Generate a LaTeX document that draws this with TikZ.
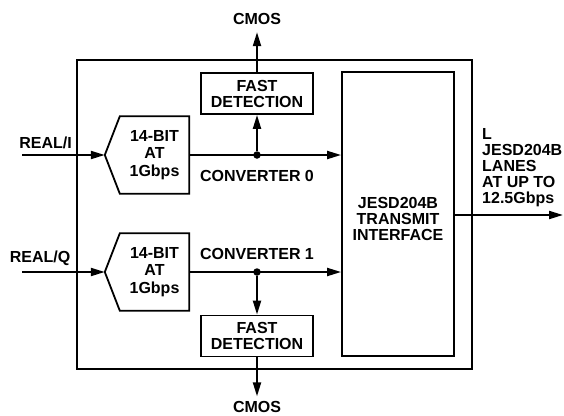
\documentclass[tikz,border=0pt]{standalone}
\usepackage{fontspec}
\setmainfont{Liberation Sans}
\usetikzlibrary{arrows.meta,calc}

\begin{document}
\begin{tikzpicture}[x=1pt,y=-1pt,
  txt/.style={font=\fontsize{16}{16}\selectfont\bfseries, align=center, inner sep=0pt},
  blk/.style={draw, line width=1.8pt, inner sep=0pt},
  adcbox/.style={txt, font=\fontsize{16}{17.5}\selectfont\bfseries, minimum width=69pt, minimum height=77pt},
  fastbox/.style={blk, txt, minimum width=112pt, minimum height=41pt},
  wire/.style={line width=2pt},
  arr/.style={wire, -{Triangle[length=14pt,width=8pt]}},
  junction/.style={circle, fill, inner sep=0pt, minimum size=7.5pt}]

\useasboundingbox (0,0) rectangle (564,415);

% outer frame
\draw[line width=2.6pt] (77,60) rectangle (472,369);

% JESD204B interface
\node[blk, minimum width=112pt, minimum height=284pt] (jesd) at (398,214) {};
\node[txt] (jesdtxt) at (398,219) {JESD204B\\TRANSMIT\\INTERFACE};

% converter 0 (top)
\node[adcbox] (adc0) at (154.5,155) {14-BIT\\AT\\1Gbps};
\coordinate (in0) at ($(adc0.west)+(-15,0)$);
\draw[blk] (adc0.north east) -- (adc0.south east) -- (adc0.south west) -- (in0) -- (adc0.north west) -- cycle;
\coordinate (src0) at (22,155);
\node[txt] (reali) at (45.5,142.5) {REAL/I};
\draw[arr] (src0) -- (in0);
\node[fastbox] (fd0) at (257,93.5) {FAST\\DETECTION};
\node[txt, outer sep=8pt] (cmos0) at (257,18.5) {CMOS};
\node[junction] (j0) at (257,155) {};
\draw[arr] (adc0.east) -- (adc0.east -| jesd.west);
\draw[arr] (j0) -- (fd0.south);
\draw[arr] (fd0.north) -- (cmos0.south);
\node[txt] (conv0) at (257,176) {CONVERTER 0};

% converter 1 (bottom)
\node[adcbox] (adc1) at (154.5,272) {14-BIT\\AT\\1Gbps};
\coordinate (in1) at ($(adc1.west)+(-15,0)$);
\draw[blk] (adc1.north east) -- (adc1.south east) -- (adc1.south west) -- (in1) -- (adc1.north west) -- cycle;
\coordinate (src1) at (22,272);
\node[txt] (realq) at (40,258) {REAL/Q};
\draw[arr] (src1) -- (in1);
\node[fastbox] (fd1) at (257,336) {FAST\\DETECTION};
\node[txt, outer sep=5pt] (cmos1) at (257,407) {CMOS};
\node[junction] (j1) at (257,272) {};
\draw[arr] (adc1.east) -- (adc1.east -| jesd.west);
\draw[arr] (j1) -- (fd1.north);
\draw[arr] (fd1.south) -- (cmos1.north);
\node[txt] (conv1) at (257,254) {CONVERTER 1};

% lanes out
\coordinate (lanes) at (563,215);
\draw[arr] (jesd.east |- lanes) -- (lanes);
\node[txt, align=left, anchor=west] (lanestxt) at (482,167.5) {L\\JESD204B\\LANES\\AT UP TO\\12.5Gbps};

\end{tikzpicture}
\end{document}
